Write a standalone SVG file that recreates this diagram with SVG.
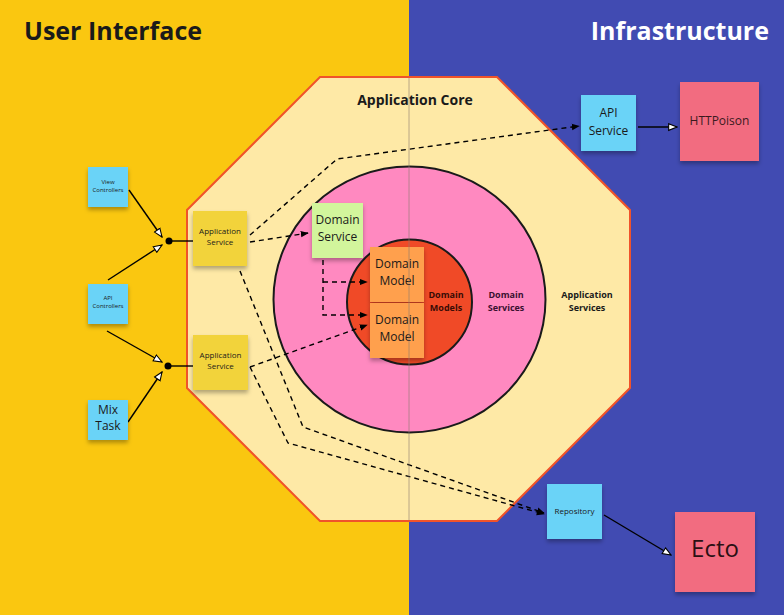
<svg xmlns="http://www.w3.org/2000/svg" width="784" height="615" viewBox="0 0 784 615">
<style>
.t{font-family:"Open Sans","Liberation Sans",sans-serif;fill:#1a1a1a;text-anchor:middle}
.b{font-weight:bold}
.dash{fill:none;stroke:#000;stroke-width:1.4;stroke-dasharray:5 4}
.solid{fill:none;stroke:#000;stroke-width:1.4}
.blue{fill:#6BD3F7}
.pinkn{fill:#F26C80}
.yel{fill:#F2D33A}
.grn{fill:#D2F59C}
.org{fill:#FFA04E}
</style>
<defs>
<filter id="sh" x="-20%" y="-20%" width="140%" height="150%">
<feDropShadow dx="0" dy="3" stdDeviation="2" flood-color="#000" flood-opacity="0.3"/>
</filter>
<marker id="af" viewBox="0 0 10 10" refX="9" refY="5" markerWidth="8" markerHeight="8" orient="auto" markerUnits="userSpaceOnUse">
<path d="M0,1 L10,5 L0,9 Z" fill="#000"/>
</marker>
<marker id="ah" viewBox="0 0 12 12" refX="11" refY="6" markerWidth="10" markerHeight="10" orient="auto" markerUnits="userSpaceOnUse">
<path d="M1,2 L11,6 L1,10 Z" fill="#fff" stroke="#000" stroke-width="1.3"/>
</marker>
</defs>
<rect x="0" y="0" width="409" height="615" fill="#FAC710"/>
<rect x="409" y="0" width="375" height="615" fill="#414BB2"/>
<text x="24" y="40" class="t b" style="text-anchor:start;font-size:25px">User Interface</text>
<text x="769" y="40" class="t b" style="text-anchor:end;font-size:25px;fill:#fff">Infrastructure</text>

<g id="core">
<polygon points="320,77 497,77 630,210 630,388 497,521 320,521 187,388 187,210" fill="#FEE9A6" stroke="#F0532A" stroke-width="2"/>
<text x="415" y="105" class="t b" style="font-size:14px">Application Core</text>
<text x="587" y="298" class="t b" style="font-size:9px">Application</text>
<text x="587" y="311" class="t b" style="font-size:9px">Services</text>
</g>
<g id="domain-services">
<ellipse cx="409.5" cy="299.5" rx="136" ry="133" fill="#FF89C0" stroke="#1a1a1a" stroke-width="2"/>
<text x="506" y="298" class="t b" style="font-size:9px;fill:#3a1030">Domain</text>
<text x="506" y="311" class="t b" style="font-size:9px;fill:#3a1030">Services</text>
</g>
<g id="domain-models">
<circle cx="409.5" cy="302" r="62.5" fill="#F04A27" stroke="#1a1a1a" stroke-width="2"/>
<text x="446" y="298" class="t b" style="font-size:9px;fill:#3a0c05">Domain</text>
<text x="446" y="311" class="t b" style="font-size:9px;fill:#3a0c05">Models</text>
</g>

<g id="connectors">
<path class="solid" d="M129,190 L162,237" marker-end="url(#ah)"/>
<path class="solid" d="M108,280 L162,245" marker-end="url(#ah)"/>
<path class="solid" d="M169,241 L193,241"/>
<circle cx="169" cy="241" r="3.5" fill="#000"/>
<path class="solid" d="M107,331 L162,362" marker-end="url(#ah)"/>
<path class="solid" d="M128,422 L162,372" marker-end="url(#ah)"/>
<path class="solid" d="M168,366 L193,366"/>
<circle cx="168" cy="366" r="3.5" fill="#000"/>
<path class="dash" d="M250,242 L308,233" marker-end="url(#af)"/>
<path class="dash" d="M250,235 L337,159 L579,126" marker-end="url(#af)"/>
<path class="dash" d="M240,271 L303,427 L544,513" marker-end="url(#af)"/>
<path class="dash" d="M250,367 L288,443 L544,514" marker-end="url(#af)"/>
<path class="dash" d="M250,367 L367,325" marker-end="url(#af)"/>
<path class="dash" d="M323,260 L323,315 L367,315" marker-end="url(#af)"/>
<path class="dash" d="M323,282 L367,282" marker-end="url(#af)"/>
<path class="solid" d="M638,127 L677,127" marker-end="url(#ah)"/>
<path class="solid" d="M604,515 L671,555" marker-end="url(#ah)"/>
</g>

<g id="view-controllers">
<rect x="88" y="167" width="40" height="40" class="blue" filter="url(#sh)"/>
<text x="108" y="184" class="t" style="font-size:6px">View</text>
<text x="108" y="192" class="t" style="font-size:6px">Controllers</text>
</g>
<g id="api-controllers">
<rect x="88" y="284" width="40" height="40" class="blue" filter="url(#sh)"/>
<text x="108" y="300" class="t" style="font-size:6px">API</text>
<text x="108" y="308" class="t" style="font-size:6px">Controllers</text>
</g>
<g id="mix-task">
<rect x="88" y="400" width="40" height="40" class="blue" filter="url(#sh)"/>
<text x="108" y="414" class="t" style="font-size:12px">Mix</text>
<text x="108" y="430" class="t" style="font-size:12px">Task</text>
</g>
<g id="app-service-1">
<rect x="193" y="211" width="54" height="55" class="yel" filter="url(#sh)"/>
<text x="220" y="234" class="t" style="font-size:8px">Application</text>
<text x="220" y="245" class="t" style="font-size:8px">Service</text>
</g>
<g id="app-service-2">
<rect x="193" y="335" width="55" height="55" class="yel" filter="url(#sh)"/>
<text x="220.5" y="358" class="t" style="font-size:8px">Application</text>
<text x="220.5" y="369" class="t" style="font-size:8px">Service</text>
</g>
<g id="domain-service">
<rect x="312" y="203" width="51" height="55" class="grn" filter="url(#sh)"/>
<text x="337.5" y="224" class="t" style="font-size:12px">Domain</text>
<text x="337.5" y="241" class="t" style="font-size:12px">Service</text>
</g>
<g id="domain-model-1">
<rect x="370" y="247" width="54" height="55" class="org" filter="url(#sh)"/>
<text x="397" y="268" class="t" style="font-size:12px">Domain</text>
<text x="397" y="285" class="t" style="font-size:12px">Model</text>
</g>
<g id="domain-model-2">
<rect x="370" y="303" width="54" height="55" class="org" filter="url(#sh)"/>
<text x="397" y="324" class="t" style="font-size:12px">Domain</text>
<text x="397" y="341" class="t" style="font-size:12px">Model</text>
</g>
<line x1="409" y1="78" x2="409" y2="520" stroke="#8a7a70" stroke-width="1" opacity="0.6"/>
<g id="api-service">
<rect x="581" y="95" width="55" height="56" class="blue" filter="url(#sh)"/>
<text x="608.5" y="117" class="t" style="font-size:12px">API</text>
<text x="608.5" y="135" class="t" style="font-size:12px">Service</text>
</g>
<g id="httpoison">
<rect x="680" y="82" width="79" height="79" class="pinkn" filter="url(#sh)"/>
<text x="719.5" y="125" class="t" style="font-size:12px;fill:#3a1a1e">HTTPoison</text>
</g>
<g id="repository">
<rect x="547" y="484" width="55" height="55" class="blue" filter="url(#sh)"/>
<text x="574.5" y="514" class="t" style="font-size:8px">Repository</text>
</g>
<g id="ecto">
<rect x="675" y="512" width="80" height="80" class="pinkn" filter="url(#sh)"/>
<text x="715" y="557" class="t" style="font-size:24px;fill:#2a1013">Ecto</text>
</g>
</svg>
